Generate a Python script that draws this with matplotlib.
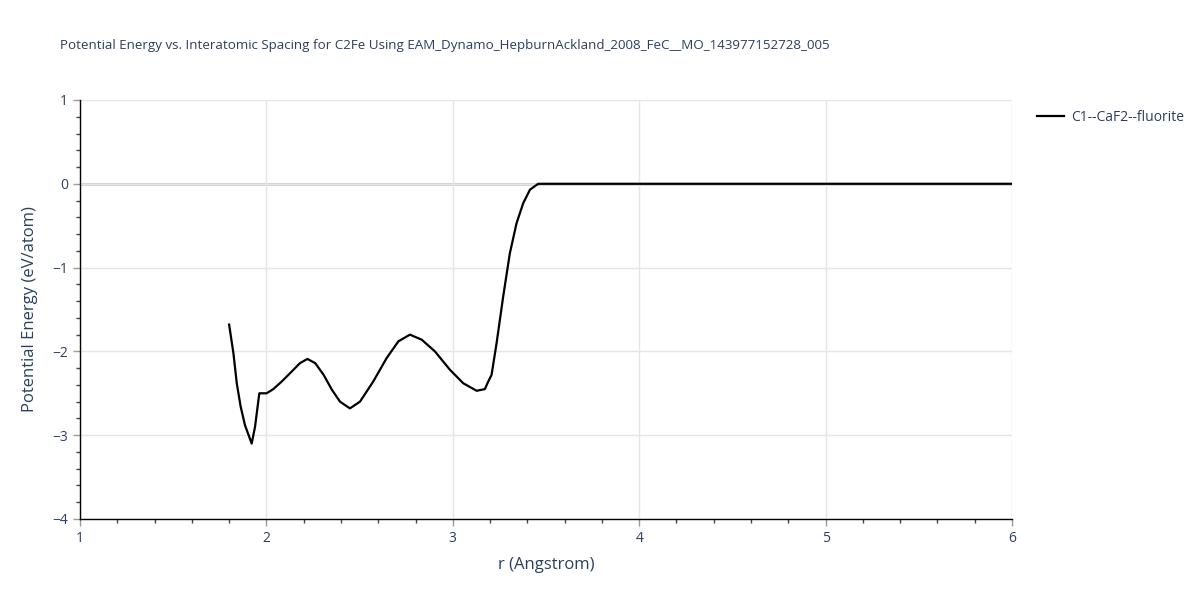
import numpy as np
import matplotlib.pyplot as plt
from matplotlib.ticker import MultipleLocator

title = "Potential Energy vs. Interatomic Spacing for C2Fe Using EAM_Dynamo_HepburnAckland_2008_FeC__MO_143977152728_005"
label = "C1--CaF2--fluorite"

r = [1.800, 1.823, 1.841, 1.862, 1.885, 1.921, 1.939, 1.962, 2.001, 2.037,
     2.082, 2.136, 2.180, 2.220, 2.262, 2.307, 2.352, 2.395, 2.448, 2.502,
     2.573, 2.645, 2.708, 2.770, 2.833, 2.904, 2.985, 3.056, 3.128, 3.172,
     3.190, 3.208, 3.235, 3.270, 3.306, 3.342, 3.378, 3.414, 3.458, 3.490,
     4.0, 5.0, 6.0]
energy = [-1.68, -2.02, -2.38, -2.66, -2.88, -3.10, -2.90, -2.50, -2.50, -2.45,
          -2.36, -2.24, -2.14, -2.09, -2.14, -2.28, -2.46, -2.60, -2.68, -2.60,
          -2.36, -2.08, -1.88, -1.80, -1.86, -2.00, -2.22, -2.38, -2.47, -2.45,
          -2.36, -2.28, -1.90, -1.35, -0.83, -0.47, -0.23, -0.07, 0.0, 0.0,
          0.0, 0.0, 0.0]

txt = '#2a3f5f'
plt.rcParams['font.family'] = ['Open Sans', 'DejaVu Sans']

fig = plt.figure(figsize=(12, 6), dpi=100)
ax = fig.add_axes([80/1200, 81/600, 932/1200, 419/600])

ax.plot(r, energy, color='black', lw=1.6, label=label, zorder=3,
        solid_joinstyle='round')
ax.axhline(0, color='#cccccc', lw=2, zorder=1)

ax.set_xlim(1, 6)
ax.set_ylim(-4, 1)
ax.xaxis.set_major_locator(MultipleLocator(1))
ax.xaxis.set_minor_locator(MultipleLocator(0.2))
ax.yaxis.set_minor_locator(MultipleLocator(0.2))
ax.grid(True, which='major', color='#e5e5e5', lw=1, zorder=0)
ax.tick_params(which='major', length=5, color='#999999', labelsize=10, labelcolor=txt, width=1)
ax.tick_params(which='minor', length=3, color='#444444', width=1)
ax.set_yticks([-4, -3, -2, -1, 0, 1])
ax.set_yticklabels(['\u22124', '\u22123', '\u22122', '\u22121', '0', '1'])

for s in ['top', 'right']:
    ax.spines[s].set_visible(False)
for s in ['left', 'bottom']:
    ax.spines[s].set_color('black')
    ax.spines[s].set_linewidth(1)

ax.set_xlabel('r (Angstrom)', fontsize=12, color=txt, labelpad=8)
ax.set_ylabel('Potential Energy (eV/atom)', fontsize=12, color=txt, labelpad=10)
fig.text(60/1200, 1 - 45/600, title, fontsize=9.6, color=txt, va='center', ha='left')

ax.legend(loc='upper left', bbox_to_anchor=(1.016, 1.0), frameon=False,
          fontsize=10, labelcolor=txt, handlelength=2.0, handletextpad=0.5,
          borderaxespad=0.3)

fig.savefig('out.png', dpi=100)
